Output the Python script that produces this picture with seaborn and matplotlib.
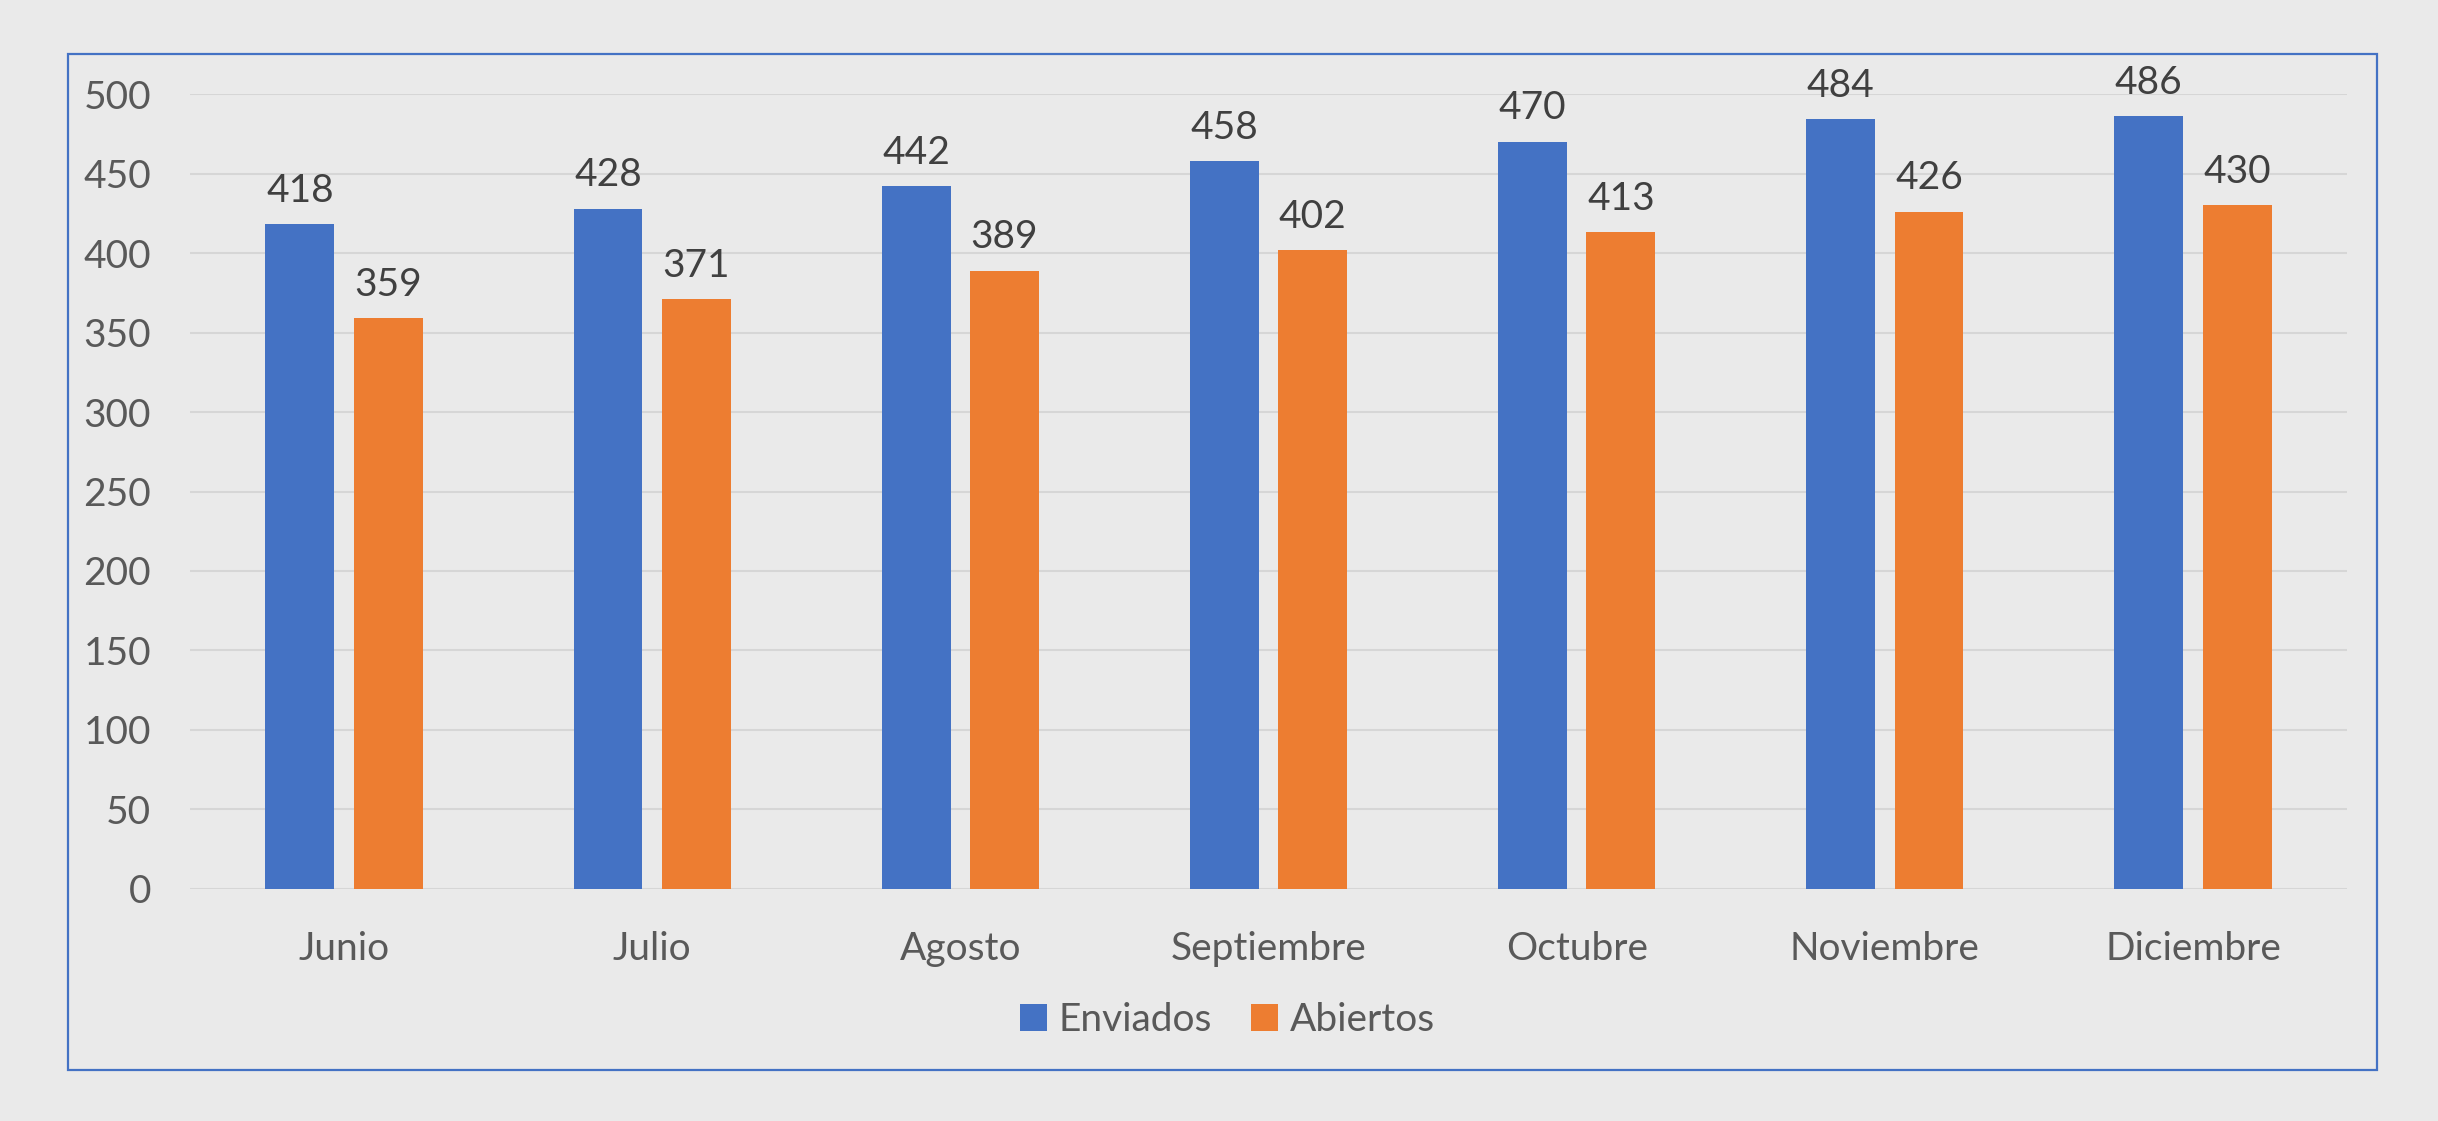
import pandas as pd
import matplotlib.pyplot as plt
import seaborn as sns
from matplotlib.patches import Rectangle

# Data
meses = ['Junio', 'Julio', 'Agosto', 'Septiembre', 'Octubre', 'Noviembre', 'Diciembre']
enviados = [418, 428, 442, 458, 470, 484, 486]
abiertos = [359, 371, 389, 402, 413, 426, 430]
series = ['Enviados', 'Abiertos']
colores = ['#4472C4', '#ED7D31']

df = pd.DataFrame({
    'Mes': meses * 2,
    'Serie': [series[0]] * len(meses) + [series[1]] * len(meses),
    'Valor': enviados + abiertos,
})

bg = '#EAEAEA'
sns.set_style('white')
plt.rcParams['font.family'] = ['Lato', 'DejaVu Sans']

fig = plt.figure(figsize=(24.38, 11.21), dpi=100, facecolor=bg)
ax = fig.add_axes([0.0779, 0.2070, 0.8848, 0.7091])
ax.set_facecolor(bg)

sns.barplot(data=df, x='Mes', y='Valor', hue='Serie', palette=colores,
            saturation=1, width=0.573, gap=0.22, edgecolor='none',
            linewidth=0, ax=ax, legend=True)

ax.set_ylim(0, 500)
ax.set_xlim(-0.5, len(meses) - 0.5)
ax.set_yticks(range(0, 501, 50))
ax.grid(axis='y', color='#D6D6D6', linewidth=1.5)
ax.set_axisbelow(True)
for s in ax.spines.values():
    s.set_visible(False)
ax.set_xlabel('')
ax.set_ylabel('')
ax.tick_params(axis='both', length=0, labelsize=28, labelcolor='#595959')
ax.tick_params(axis='y', pad=28)
ax.tick_params(axis='x', pad=30)

# Value labels
for cont in ax.containers:
    ax.bar_label(cont, fmt='%.0f', padding=11, fontsize=28, color='#404040')

# legend centred on the outer frame, not the plot area
ax.legend(loc='center', bbox_to_anchor=(0.481, -0.165), ncol=2, frameon=False,
          fontsize=28, labelcolor='#595959', handlelength=0.7, handleheight=0.7,
          handletextpad=0.3, columnspacing=1.0)

# Blue outer frame
fig.patches.append(Rectangle((68 / 2438, 1 - 1070 / 1121), (2377 - 68) / 2438,
                             (1070 - 54) / 1121, transform=fig.transFigure,
                             fill=False, edgecolor='#4472C4', linewidth=1.6))

fig.savefig('out.png', dpi=100, facecolor=bg)
